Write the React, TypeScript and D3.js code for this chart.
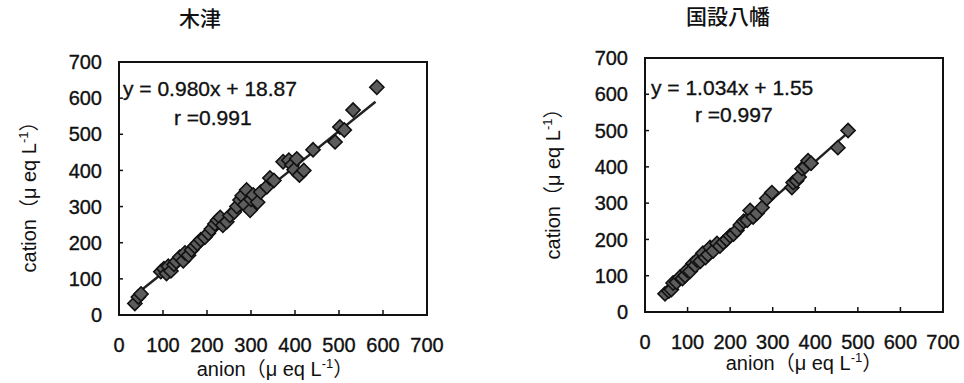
import React from "react";
import * as d3 from "d3";

const tickValues = [0, 100, 200, 300, 400, 500, 600, 700];

const kizuTitle = "木津";
const kizuAnion = [36,44,50,95,102,108,112,118,125,130,138,146,150,158,165,172,178,186,195,203,210,218,224,230,236,245,252,262,268,275,280,286,290,298,300,305,315,322,336,343,352,373,386,393,398,404,410,420,441,491,502,512,532,586];
const kizuCation = [32,50,58,120,128,115,135,122,140,148,160,150,172,165,180,190,198,208,215,226,238,252,262,270,248,258,275,285,300,318,330,305,346,290,320,332,312,340,355,379,372,424,428,415,402,432,387,400,457,479,520,512,567,630];
const kizuFit = { slope: 0.98, intercept: 18.87, r: "0.991", xMin: 30, xMax: 583 };

const yawataTitle = "国設八幡";
const yawataAnion = [47,56,62,66,74,82,88,94,99,106,113,118,122,130,136,142,148,153,160,169,176,184,192,200,208,216,224,232,240,247,254,263,275,286,298,345,348,356,362,369,376,383,390,453,477];
const yawataCation = [50,58,62,80,82,96,92,100,115,112,134,128,143,140,162,150,158,178,168,189,182,192,200,210,215,225,240,250,253,280,262,272,288,313,329,343,357,362,372,395,400,417,410,453,500];
const yawataFit = { slope: 1.034, intercept: 1.55, r: "0.997", xMin: 44, xMax: 480 };

const FONT = "'Liberation Sans', Arial, 'Noto Sans CJK JP', sans-serif";

type PanelProps = {
  title: string;
  anion: number[];
  cation: number[];
  fit: { slope: number; intercept: number; r: string; xMin: number; xMax: number };
  box: { left: number; right: number; top: number; bottom: number };
  titlePos: [number, number];
  yTitlePos: [number, number];
  xTitlePos: [number, number];
  eqPos: [number, number];
  rPos: [number, number];
  yLabelX: number;
  xLabelY: number;
};

function Panel(p: PanelProps) {
  const x = d3.scaleLinear().domain([0, 700]).range([p.box.left, p.box.right]);
  const y = d3.scaleLinear().domain([0, 700]).range([p.box.bottom, p.box.top]);
  const diamond = d3.symbol().type(d3.symbolSquare).size(100)();
  const line = d3
    .line<number>()
    .x((v) => x(v))
    .y((v) => y(p.fit.slope * v + p.fit.intercept));
  const pts = p.anion.map((a, i) => [a, p.cation[i]]);
  const eq = `y = ${p.fit.slope.toFixed(3)}x + ${p.fit.intercept.toFixed(2)}`;
  const txt = { stroke: "#111", strokeWidth: 0.35 };
  return (
    <g fontFamily={FONT} fill="#111">
      <text x={p.titlePos[0]} y={p.titlePos[1]} textAnchor="middle" fontSize={21} fontWeight={500}
        fontFamily="'Noto Sans CJK JP', sans-serif">{p.title}</text>
      <rect x={p.box.left} y={p.box.top} width={p.box.right - p.box.left} height={p.box.bottom - p.box.top}
        fill="none" stroke="#111" strokeWidth={2} />
      {tickValues.slice(1, -1).map((t) => (
        <g key={"t" + t}>
          <line x1={x(t)} x2={x(t)} y1={p.box.bottom} y2={p.box.bottom - 5} stroke="#111" strokeWidth={1.5} />
          <line x1={p.box.left} x2={p.box.left + 4} y1={y(t)} y2={y(t)} stroke="#111" strokeWidth={1.5} />
        </g>
      ))}
      {tickValues.map((t) => (
        <text key={"yl" + t} x={p.yLabelX} y={y(t)} dy="0.36em" textAnchor="end" fontSize={20} {...txt}>{t}</text>
      ))}
      {tickValues.map((t) => (
        <text key={"xl" + t} x={x(t)} y={p.xLabelY} dy="0.36em" textAnchor="middle" fontSize={20} {...txt}>{t}</text>
      ))}
      <text transform={`translate(${p.yTitlePos[0]},${p.yTitlePos[1]}) rotate(-90)`} textAnchor="middle" dy="0.36em" fontSize={20}>
        cation（μ eq L<tspan dy="-8" fontSize={13}>-1</tspan><tspan dy="8">）</tspan>
      </text>
      <text x={p.xTitlePos[0]} y={p.xTitlePos[1]} textAnchor="middle" dy="0.36em" fontSize={20}>
        anion（μ eq L<tspan dy="-8" fontSize={13}>-1</tspan><tspan dy="8">）</tspan>
      </text>
      <path d={line([p.fit.xMin, p.fit.xMax]) || ""} stroke="#222" strokeWidth={2.5} fill="none" />
      {pts.map((d, i) => (
        <path key={"p" + i} d={diamond || ""} transform={`translate(${x(d[0])},${y(d[1])}) rotate(45)`}
          fill="#5c5c5c" stroke="#111" strokeWidth={1.6} />
      ))}
      <text x={p.eqPos[0]} y={p.eqPos[1]} dy="0.36em" fontSize={21} {...txt}>{eq}</text>
      <text x={p.rPos[0]} y={p.rPos[1]} dy="0.36em" fontSize={21} {...txt}>{`r =${p.fit.r}`}</text>
    </g>
  );
}

export default function App() {
  return (
    <svg width={964} height={383} style={{ position: "absolute", left: 0, top: 0, background: "#fff" }}>
      <rect width={964} height={383} fill="#fff" />
      <Panel
        title={kizuTitle}
        anion={kizuAnion}
        cation={kizuCation}
        fit={kizuFit}
        box={{ left: 119, right: 427, top: 62, bottom: 315 }}
        titlePos={[200, 26]}
        yTitlePos={[29, 192]}
        xTitlePos={[275, 369]}
        eqPos={[123, 88]}
        rPos={[174, 117]}
        yLabelX={102}
        xLabelY={345}
      />
      <Panel
        title={yawataTitle}
        anion={yawataAnion}
        cation={yawataCation}
        fit={yawataFit}
        box={{ left: 645, right: 943, top: 58, bottom: 312 }}
        titlePos={[728, 24]}
        yTitlePos={[553, 179]}
        xTitlePos={[804, 363]}
        eqPos={[651, 87]}
        rPos={[695, 114]}
        yLabelX={628}
        xLabelY={342}
      />
    </svg>
  );
}
